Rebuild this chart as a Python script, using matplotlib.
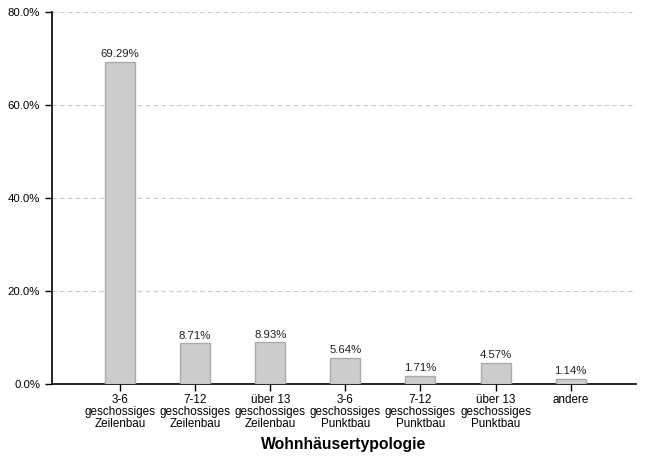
import matplotlib
matplotlib.use("Agg")
import matplotlib.pyplot as plt
from matplotlib.ticker import FuncFormatter

plt.rcParams['font.family'] = ['Liberation Sans', 'DejaVu Sans']

categories = ["3-6\ngeschossiges\nZeilenbau", "7-12\ngeschossiges\nZeilenbau",
              "über 13\ngeschossiges\nZeilenbau", "3-6\ngeschossiges\nPunktbau",
              "7-12\ngeschossiges\nPunktbau", "über 13\ngeschossiges\nPunktbau",
              "andere"]
values = [69.29, 8.71, 8.93, 5.64, 1.71, 4.57, 1.14]
yticks = [0, 20, 40, 60, 80]

fig = plt.figure(figsize=(6.45, 4.57), dpi=100)
ax = fig.add_axes([52/645, 1-384/457, (636-52)/645, (384-12)/457])

x = list(range(len(categories)))
bars = ax.bar(x, values, width=0.4, color='#cccccc', edgecolor='#aaaaaa', linewidth=1, zorder=3)
for xi, v in zip(x, values):
    ax.text(xi, v + 0.6, f"{v:.2f}%", ha='center', va='bottom', fontsize=8.2, color='#222222', zorder=4)

ax.set_xlim(-0.905, 6.87)
ax.set_ylim(0, 80)
ax.set_yticks(yticks)
ax.yaxis.set_major_formatter(FuncFormatter(lambda v, p: f"{v:.1f}%"))
ax.set_xticks(x)
ax.set_xticklabels(categories, fontsize=8.4, linespacing=1.0)
ax.tick_params(axis='y', labelsize=8.2, length=5, width=1)
ax.tick_params(axis='x', length=5, width=1, pad=2)
ax.grid(axis='y', linestyle=(0, (4, 3)), color='#cccccc', linewidth=0.8, zorder=0)
ax.spines['top'].set_visible(False)
ax.spines['right'].set_visible(False)
ax.spines['left'].set_linewidth(1.2)
ax.spines['bottom'].set_linewidth(1.2)
ax.set_xlabel("Wohnhäusertypologie", fontsize=11.3, fontweight='bold', labelpad=5)

fig.savefig("out.png", dpi=100)
